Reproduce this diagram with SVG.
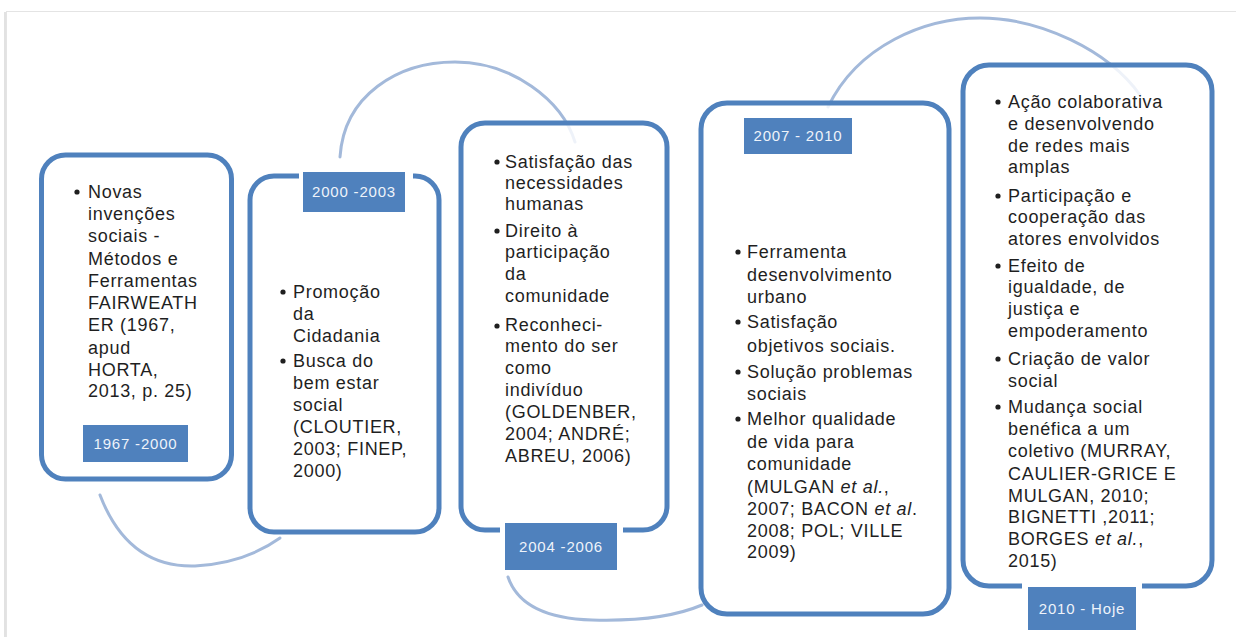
<svg xmlns="http://www.w3.org/2000/svg" width="1236" height="637" viewBox="0 0 1236 637">
<defs>
<style>
.box{fill:#ffffff;fill-opacity:0.82;stroke:#4f81bd;stroke-width:5}
.lab{fill:#4f81bd}
.gap{fill:#ffffff}
.lt{font-family:"Liberation Sans",Arial,sans-serif;font-size:15px;fill:#eef3fa;letter-spacing:0.8px;text-anchor:middle}
.t{font-family:"Liberation Sans",Arial,sans-serif;font-size:18px;fill:#1f1f1f;letter-spacing:0.7px}
.b{fill:#1f1f1f}
.c{fill:none;stroke:#a3b9da;stroke-width:3;stroke-linecap:round}
</style>
</defs>
<rect x="0" y="0" width="1236" height="637" fill="#ffffff"/>
<rect x="6.5" y="11.5" width="1240" height="640" fill="#ffffff" stroke="#e4e4e4" stroke-width="1"/>
<line x1="5" y1="12" x2="5" y2="637" stroke="#d0d0d0" stroke-width="2" opacity="0.6"/>

<g id="connectors">
<path class="c" d="M100,495 Q 128,568 195,566 Q 245,563 280,538"/>
<path class="c" d="M340,157 C 344,95 398,62 455,62 C 512,62 562,100 575,142"/>
<path class="c" d="M508,577 Q 522,618 592,620 Q 662,622 702,605"/>
<path class="c" d="M828,107 C 858,45 925,18 980,18 C 1040,18 1108,50 1140,95"/>
</g>

<g id="node-1967-2000">
<rect class="box" x="41.5" y="155" width="190" height="324" rx="24"/>
<circle class="b" cx="77" cy="192" r="2.6"/>
<text class="t"><tspan x="88" y="198">Novas</tspan><tspan x="88" y="220">invenções</tspan><tspan x="88" y="242">sociais -</tspan><tspan x="88" y="265">Métodos e</tspan><tspan x="88" y="287">Ferramentas</tspan><tspan x="88" y="309">FAIRWEATH</tspan><tspan x="88" y="331">ER (1967,</tspan><tspan x="88" y="354">apud</tspan><tspan x="88" y="376">HORTA,</tspan><tspan x="88" y="397">2013, p. 25)</tspan></text>
<rect class="lab" x="83" y="425" width="105" height="37"/>
<text class="lt" x="135.5" y="449">1967 -2000</text>
</g>

<g id="node-2000-2003">
<rect class="box" x="250" y="176" width="189" height="356" rx="24"/>
<rect class="gap" x="299" y="168" width="114" height="16"/>
<rect class="lab" x="303" y="172" width="102" height="40"/>
<text class="lt" x="354" y="197">2000 -2003</text>
<circle class="b" cx="283" cy="292" r="2.6"/>
<circle class="b" cx="283" cy="361" r="2.6"/>
<text class="t"><tspan x="293" y="298">Promoção</tspan><tspan x="293" y="320">da</tspan><tspan x="293" y="342">Cidadania</tspan><tspan x="293" y="367">Busca do</tspan><tspan x="293" y="389">bem estar</tspan><tspan x="293" y="411">social</tspan><tspan x="293" y="433">(CLOUTIER,</tspan><tspan x="293" y="455">2003; FINEP,</tspan><tspan x="293" y="477">2000)</tspan></text>
</g>

<g id="node-2004-2006">
<rect class="box" x="461" y="123" width="206" height="407" rx="24"/>
<circle class="b" cx="497" cy="162" r="2.6"/>
<circle class="b" cx="497" cy="231" r="2.6"/>
<circle class="b" cx="497" cy="326" r="2.6"/>
<text class="t"><tspan x="505" y="168">Satisfação das</tspan><tspan x="505" y="189">necessidades</tspan><tspan x="505" y="210">humanas</tspan><tspan x="505" y="237">Direito à</tspan><tspan x="505" y="258">participação</tspan><tspan x="505" y="280">da</tspan><tspan x="505" y="302">comunidade</tspan><tspan x="505" y="331">Reconheci-</tspan><tspan x="505" y="352">mento do ser</tspan><tspan x="505" y="374">como</tspan><tspan x="505" y="396">indivíduo</tspan><tspan x="505" y="418">(GOLDENBER,</tspan><tspan x="505" y="440">2004;  ANDRÉ;</tspan><tspan x="505" y="462">ABREU, 2006)</tspan></text>
<rect class="gap" x="500" y="522" width="123" height="16"/>
<rect class="lab" x="505" y="523" width="112" height="47"/>
<text class="lt" x="561" y="552">2004 -2006</text>
</g>

<g id="node-2007-2010">
<rect class="box" x="701" y="103" width="248" height="511" rx="26"/>
<rect class="lab" x="744" y="118" width="108" height="36"/>
<text class="lt" x="798" y="141">2007 - 2010</text>
<circle class="b" cx="738" cy="252" r="2.6"/>
<circle class="b" cx="738" cy="322" r="2.6"/>
<circle class="b" cx="738" cy="372" r="2.6"/>
<circle class="b" cx="738" cy="419" r="2.6"/>
<text class="t"><tspan x="747" y="258">Ferramenta</tspan><tspan x="747" y="281">desenvolvimento</tspan><tspan x="747" y="303">urbano</tspan><tspan x="747" y="328">Satisfação</tspan><tspan x="747" y="352">objetivos sociais.</tspan><tspan x="747" y="378">Solução problemas</tspan><tspan x="747" y="400">sociais</tspan><tspan x="747" y="425">Melhor qualidade</tspan><tspan x="747" y="448">de vida  para</tspan><tspan x="747" y="470">comunidade</tspan><tspan x="747" y="493">(MULGAN <tspan font-style="italic">et al.</tspan>,</tspan><tspan x="747" y="515">2007; BACON <tspan font-style="italic">et al</tspan>.</tspan><tspan x="747" y="537">2008; POL; VILLE</tspan><tspan x="747" y="558">2009)</tspan></text>
</g>

<g id="node-2010-hoje">
<rect class="box" x="963" y="65" width="249" height="521" rx="26"/>
<circle class="b" cx="998" cy="102" r="2.6"/>
<circle class="b" cx="998" cy="196" r="2.6"/>
<circle class="b" cx="998" cy="266" r="2.6"/>
<circle class="b" cx="998" cy="359" r="2.6"/>
<circle class="b" cx="998" cy="407" r="2.6"/>
<text class="t"><tspan x="1008" y="108">Ação colaborativa</tspan><tspan x="1008" y="130">e desenvolvendo</tspan><tspan x="1008" y="152">de redes mais</tspan><tspan x="1008" y="173">amplas</tspan><tspan x="1008" y="202">Participação  e</tspan><tspan x="1008" y="223">cooperação das</tspan><tspan x="1008" y="245">atores envolvidos</tspan><tspan x="1008" y="272">Efeito de</tspan><tspan x="1008" y="293">igualdade, de</tspan><tspan x="1008" y="315">justiça e</tspan><tspan x="1008" y="337">empoderamento</tspan><tspan x="1008" y="365">Criação de valor</tspan><tspan x="1008" y="387">social</tspan><tspan x="1008" y="413">Mudança social</tspan><tspan x="1008" y="435">benéfica a um</tspan><tspan x="1008" y="457">coletivo (MURRAY,</tspan><tspan x="1008" y="480">CAULIER-GRICE E</tspan><tspan x="1008" y="502">MULGAN, 2010;</tspan><tspan x="1008" y="523">BIGNETTI ,2011;</tspan><tspan x="1008" y="545">BORGES <tspan font-style="italic">et al.</tspan>,</tspan><tspan x="1008" y="567">2015)</tspan></text>
<rect class="gap" x="1022" y="578" width="120" height="16"/>
<rect class="lab" x="1028" y="587" width="108" height="43"/>
<text class="lt" x="1082" y="614">2010 - Hoje</text>
</g>
</svg>
